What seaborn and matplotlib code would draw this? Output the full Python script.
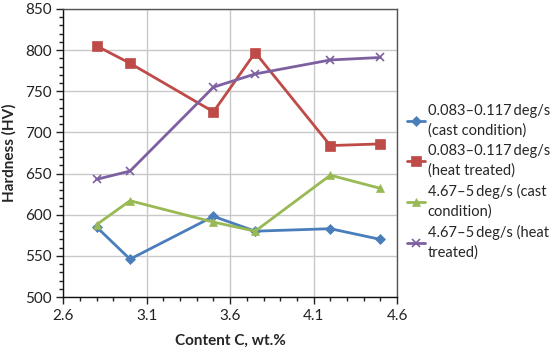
import numpy as np
import pandas as pd
import matplotlib
matplotlib.use("Agg")
import matplotlib.pyplot as plt
import seaborn as sns
from matplotlib.ticker import MultipleLocator

content_c = [2.8, 3.0, 3.5, 3.75, 4.2, 4.5]
slow_cast = [585, 546, 598, 580, 583, 570]
slow_heat = [805, 784, 725, 797, 684, 686]
fast_cast = [588, 617, 591, 580, 648, 632]
fast_heat = [643, 653, 755, 771, 788, 791]

labels = ["0.083\u20130.117\u2009deg/s\n(cast condition)",
          "0.083\u20130.117\u2009deg/s\n(heat treated)",
          "4.67\u20135\u2009deg/s (cast\ncondition)",
          "4.67\u20135\u2009deg/s (heat\ntreated)"]
series = [slow_cast, slow_heat, fast_cast, fast_heat]

df = pd.DataFrame({"C": content_c * 4,
                   "HV": sum(series, []),
                   "series": np.repeat(labels, len(content_c))})

sns.set_style("white")
plt.rcParams['font.family'] = ['Lato', 'DejaVu Sans']

colors = ["#4a7ebb", "#be4b48", "#98b954", "#7d60a0"]
markers = ["D", "s", "^", "x"]
msizes = [5, 7, 6, 6]

fig = plt.figure(figsize=(5.5, 3.57), dpi=100)
ax = fig.add_axes([0.115, 0.168, 0.607, 0.807])
for lab, c, m, ms in zip(labels, colors, markers, msizes):
    sub = df[df["series"] == lab]
    sns.lineplot(data=sub, x="C", y="HV", ax=ax, color=c, marker=m,
                 markersize=ms, linewidth=2, label=lab,
                 markeredgecolor=c, markeredgewidth=1.2 if m == "x" else 0.5)

ax.set_xlim(2.6, 4.6)
ax.set_ylim(500, 850)
ax.set_xticks([2.6, 3.1, 3.6, 4.1, 4.6])
ax.set_yticks(np.arange(500, 851, 50))
ax.xaxis.set_minor_locator(MultipleLocator(0.1))
ax.yaxis.set_minor_locator(MultipleLocator(10))
ax.grid(True, which="major", color="#c8c8c8", linewidth=1)
ax.tick_params(which="major", direction="out", length=5, width=1, colors="#222222",
               labelsize=11, left=True, bottom=True)
ax.tick_params(which="minor", direction="out", length=3, width=1, colors="#222222",
               left=True, bottom=True)
for s in ax.spines.values():
    s.set_color("#555555")
    s.set_linewidth(1)
ax.spines["left"].set_color("#111111")
ax.spines["bottom"].set_color("#111111")
ax.set_xlabel("Content C, wt.%", fontsize=11, fontweight="bold", labelpad=8)
ax.set_ylabel("Hardness (HV)", fontsize=11, fontweight="bold", labelpad=6)

leg = ax.legend(loc="center left", bbox_to_anchor=(1.03, 0.40), frameon=False,
                fontsize=10.5, handlelength=1.2, handletextpad=0.2, labelspacing=0.45,
                borderaxespad=0, borderpad=0)
for t in leg.get_texts():
    t.set_linespacing(1.45)

fig.savefig("out.png", dpi=100)
